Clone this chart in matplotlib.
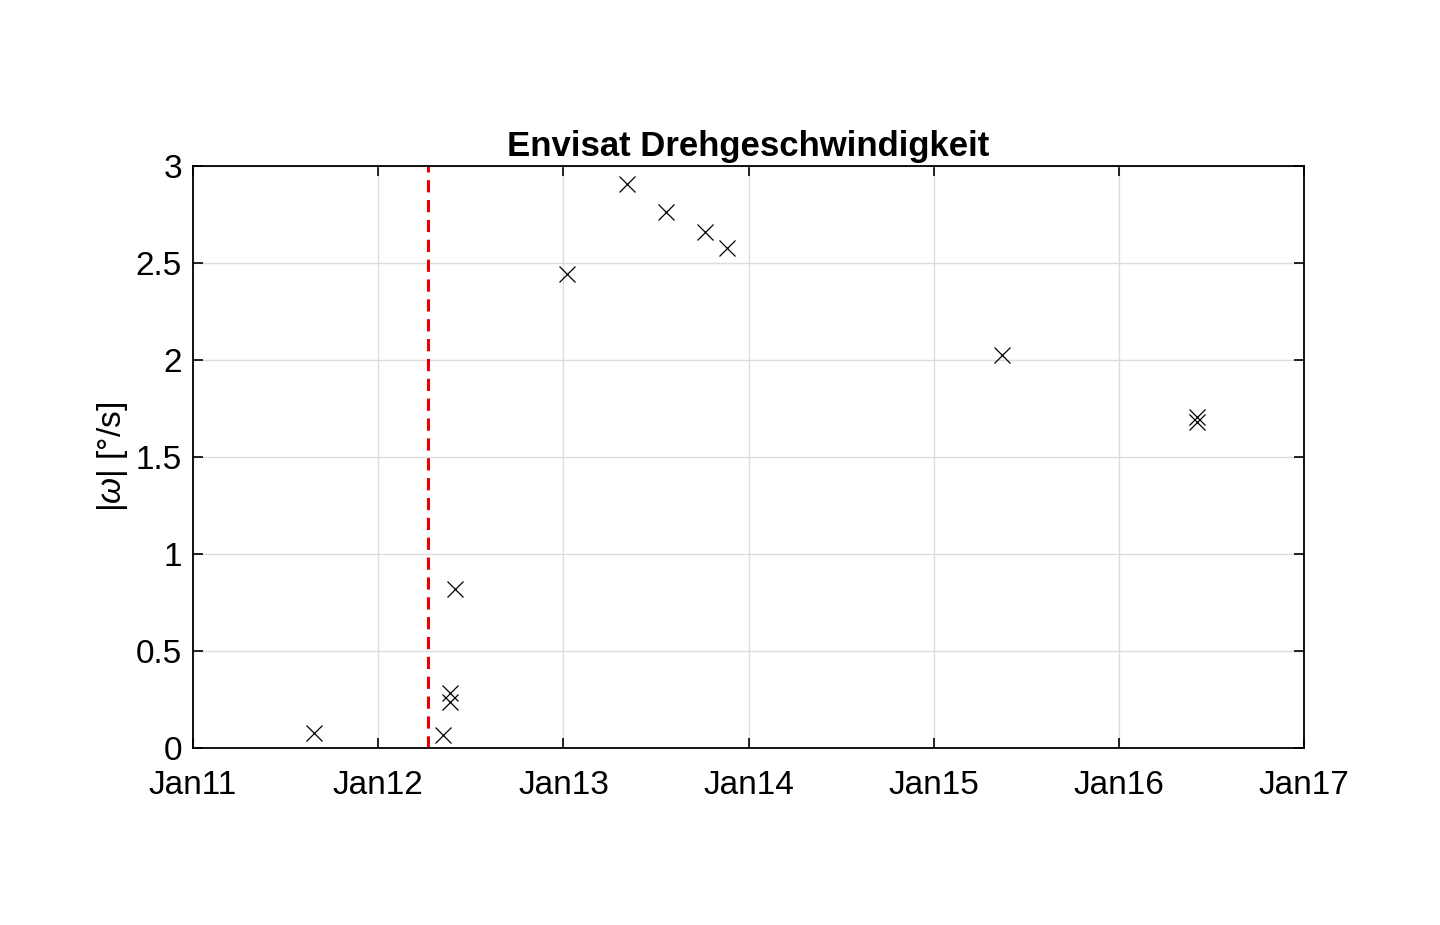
import matplotlib.pyplot as plt
import matplotlib.dates as mdates
import numpy as np

# Messzeitpunkte und Drehgeschwindigkeit
dates = ['2011-08-28', '2012-05-09', '2012-05-22', '2012-05-23', '2012-05-31',
         '2013-01-07', '2013-05-06', '2013-07-23', '2013-10-07', '2013-11-20',
         '2015-05-16', '2016-06-03', '2016-06-03']
omega = [0.077, 0.067, 0.282, 0.239, 0.818,
         2.443, 2.907, 2.764, 2.661, 2.576,
         2.026, 1.706, 1.682]
loss_date = '2012-04-08'
xticks = ['2011-01-01', '2012-01-01', '2013-01-01', '2014-01-01',
          '2015-01-01', '2016-01-01', '2017-01-01']

plt.rcParams['font.family'] = ['Liberation Sans', 'DejaVu Sans']
plt.rcParams['mathtext.fontset'] = 'custom'
plt.rcParams['mathtext.it'] = 'Liberation Sans:italic'

fig = plt.figure(figsize=(14.4, 9.25), dpi=100)
ax = fig.add_axes([0.134, 0.1914, 0.7716, 0.6291])

x = np.array(dates, dtype='datetime64[D]')
ax.plot(x, omega, 'x', color='black', markersize=11, markeredgewidth=0.9)
ax.axvline(np.datetime64(loss_date), color='#e60000', linestyle=(0, (4, 2.5)), linewidth=2.2)

ax.set_xlim(np.datetime64(xticks[0]), np.datetime64(xticks[-1]))
ax.set_ylim(0, 3)
ax.set_xticks(np.array(xticks, dtype='datetime64[D]'))
ax.xaxis.set_major_formatter(mdates.DateFormatter('%b%y'))
ax.set_yticks([0, 0.5, 1, 1.5, 2, 2.5, 3])
ax.set_yticklabels(['0', '0.5', '1', '1.5', '2', '2.5', '3'])

ax.grid(True, color='#dcdcdc', linewidth=1)
ax.set_axisbelow(True)
ax.tick_params(direction='in', top=True, right=True, labelsize=24, length=7, width=1.2)
ax.tick_params(axis='x', pad=16)
ax.tick_params(axis='y', pad=8)
for s in ax.spines.values():
    s.set_linewidth(1.3)

ax.set_title('Envisat Drehgeschwindigkeit', fontsize=25, fontweight='bold', pad=7)
ax.set_ylabel(r'|$\omega$| [°/s]', fontsize=24, labelpad=4)

fig.savefig('out.png', dpi=100)
